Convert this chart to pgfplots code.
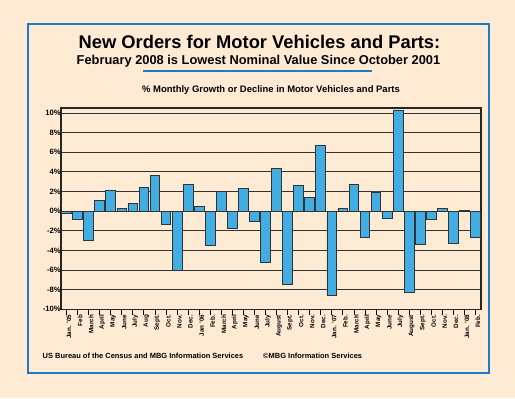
\documentclass[border=0pt]{standalone}
\usepackage{pgfplots}
\pgfplotsset{compat=1.18}
\usepackage{fontspec}
\setmainfont{Liberation Sans}
\definecolor{bg}{HTML}{FFEBD4}
\definecolor{frameblue}{HTML}{1E78CC}
\definecolor{barblue}{HTML}{42ADE2}
\begin{document}
\begin{tikzpicture}[x=1bp,y=1bp]
\fill[bg] (0,0) rectangle (515,398);
\draw[frameblue,line width=2.8bp] (28,398-24) rectangle (489,398-373);
\node[font=\fontsize{18.4}{20}\selectfont\bfseries] at (259.5,398-41.5) {New Orders for Motor Vehicles and Parts:};
\node[font=\fontsize{12.9}{15}\selectfont\bfseries] at (258.5,398-61.5) {February 2008 is Lowest Nominal Value Since October 2001};
\draw[frameblue,line width=1.3bp] (143,398-71) -- (372,398-71);
\node[font=\fontsize{9.5}{11}\selectfont\bfseries] at (271,398-90) {\% Monthly Growth or Decline in Motor Vehicles and Parts};
\node[font=\fontsize{7.5}{9}\selectfont\bfseries,anchor=west,inner sep=0pt] at (42.5,398-355.7) {US Bureau of the Census and MBG Information Services};
\node[font=\fontsize{7.5}{9}\selectfont\bfseries,anchor=west,inner sep=0pt] at (263,398-355.7) {\textcopyright MBG Information Services};
\begin{axis}[
  at={(61bp,88.7bp)}, anchor=south west,
  width=420bp, height=201.3bp, scale only axis,
  xmin=-0.5, xmax=37.5, ymin=-10, ymax=10.5,
  ybar, bar width=0.88,
  xtick={0,...,37},
  xticklabels={Jan. '05,Feb,March,April,May,June,July,Aug,Sept.,Oct.,Nov.,Dec.,Jan '06,Feb.,March,April,May,June,July,August,Sept.,Oct.,Nov.,Dec.,Jan. '07,Feb.,March,April,May,June,July,August,Sept.,Oct.,Nov.,Dec.,Jan. '08,Feb.},
  xtick pos=bottom, xtick align=outside,
  major tick length=5.5bp,
  xtick style={black, line width=0.8bp},
  xticklabel style={rotate=90, anchor=east, font=\fontsize{6.3}{7}\selectfont\bfseries, inner sep=0pt, yshift=-2.5bp},
  ytick={-10,-8,...,10},
  ytick style={draw=none},
  yticklabel={\pgfmathprintnumber{\tick}\%},
  /pgf/number format/assume math mode=true,
  yticklabel style={font=\fontsize{7.7}{9}\selectfont\bfseries, inner sep=0pt},
  ymajorgrids, grid style={black!80, line width=0.8bp},
  axis line style={black!85, line width=1.1bp},
  axis background/.style={fill=bg},
]
\addplot[fill=barblue, draw=black!80, line width=0.8bp] coordinates {
(0,-0.2) (1,-0.8) (2,-3.0) (3,1.05) (4,2.1) (5,0.3) (6,0.75) (7,2.4) (8,3.6) (9,-1.4)
(10,-6.0) (11,2.75) (12,0.48) (13,-3.45) (14,2.0) (15,-1.8) (16,2.35) (17,-1.0) (18,-5.2) (19,4.3)
(20,-7.5) (21,2.6) (22,1.4) (23,6.7) (24,-8.6) (25,0.25) (26,2.75) (27,-2.7) (28,1.95) (29,-0.75)
(30,10.3) (31,-8.3) (32,-3.4) (33,-0.8) (34,0.3) (35,-3.3) (36,0.1) (37,-2.7)
};
\end{axis}
\end{tikzpicture}
\end{document}
